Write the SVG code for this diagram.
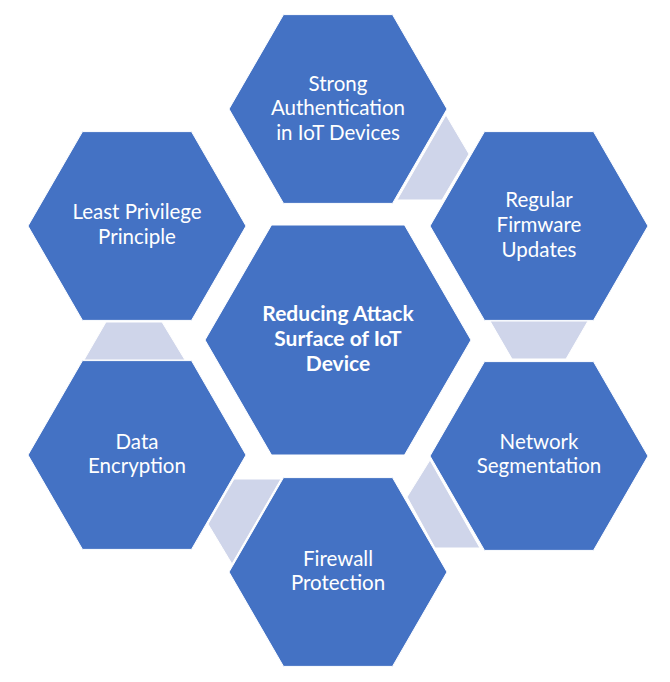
<svg xmlns="http://www.w3.org/2000/svg" xmlns:xlink="http://www.w3.org/1999/xlink" width="670" height="682" viewBox="0 0 670 682">
  <style>
    .hex { fill: #4472C4; stroke: #FFFFFF; stroke-width: 1; }
    .conn { fill: #CFD5EA; stroke: #FFFFFF; stroke-width: 1; }
    .lbl { font-family: Lato, "Open Sans", "Liberation Sans", sans-serif; font-size: 20.5px; fill: #FFFFFF; text-anchor: middle; }
    .lblb { font-family: Lato, "Open Sans", "Liberation Sans", sans-serif; font-size: 21px; font-weight: bold; fill: #FFFFFF; text-anchor: middle; }
  </style>
  <defs>
    <polygon id="hx" points="-109,0 -54.5,-94.4 54.5,-94.4 109,0 54.5,94.4 -54.5,94.4"/>
    <polygon id="hxBig" points="-133,0 -66.5,-115 66.5,-115 133,0 66.5,115 -66.5,115"/>
  </defs>
  <rect width="670" height="682" fill="#FFFFFF"/>

  <g id="connectors">
    <polygon class="conn" points="446,115 469,154 442,200 397,200"/>
    <polygon class="conn" points="490,321 588,321 566,359 512,359"/>
    <polygon class="conn" points="430,460 480,548 435,548 407,497"/>
    <polygon class="conn" points="234,479 281,479 232,564 208,524"/>
    <polygon class="conn" points="106,322 162,322 185,360 84,360"/>
  </g>

  <g id="node-center">
    <use xlink:href="#hxBig" href="#hxBig" class="hex" transform="translate(338,340)"/>
    <text class="lblb" x="338" y="321">Reducing Attack</text>
    <text class="lblb" x="338" y="346">Surface of IoT</text>
    <text class="lblb" x="338" y="371">Device</text>
  </g>

  <g id="node-strong-auth">
    <use xlink:href="#hx" href="#hx" class="hex" transform="translate(338,109)"/>
    <text class="lbl" x="338" y="91">Strong</text>
    <text class="lbl" x="338" y="115">Authentication</text>
    <text class="lbl" x="338" y="140">in IoT Devices</text>
  </g>

  <g id="node-firmware">
    <use xlink:href="#hx" href="#hx" class="hex" transform="translate(539,226)"/>
    <text class="lbl" x="539" y="207">Regular</text>
    <text class="lbl" x="539" y="232">Firmware</text>
    <text class="lbl" x="539" y="257">Updates</text>
  </g>

  <g id="node-network">
    <use xlink:href="#hx" href="#hx" class="hex" transform="translate(539,456)"/>
    <text class="lbl" x="539" y="449">Network</text>
    <text class="lbl" x="539" y="473">Segmentation</text>
  </g>

  <g id="node-firewall">
    <use xlink:href="#hx" href="#hx" class="hex" transform="translate(338,572)"/>
    <text class="lbl" x="338" y="566">Firewall</text>
    <text class="lbl" x="338" y="590">Protection</text>
  </g>

  <g id="node-encryption">
    <use xlink:href="#hx" href="#hx" class="hex" transform="translate(137,455)"/>
    <text class="lbl" x="137" y="449">Data</text>
    <text class="lbl" x="137" y="473">Encryption</text>
  </g>

  <g id="node-least-privilege">
    <use xlink:href="#hx" href="#hx" class="hex" transform="translate(137,226)"/>
    <text class="lbl" x="137" y="219">Least Privilege</text>
    <text class="lbl" x="137" y="244">Principle</text>
  </g>
</svg>
